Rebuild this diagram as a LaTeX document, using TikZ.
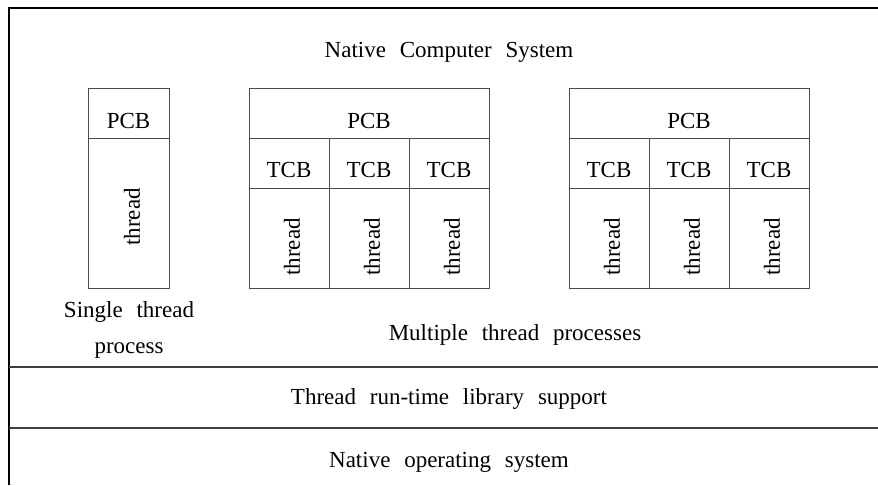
\documentclass[tikz,border=0pt]{standalone}
\usepackage{fontspec}
\setmainfont{Liberation Serif}[WordSpace=2.4]
\begin{document}
\begin{tikzpicture}[x=1pt,y=-1pt,
    frame/.style={draw=black,line width=1.6pt},
    sep/.style={draw=black!75,line width=1.1pt},
    cellline/.style={draw=black!70,line width=1pt},
    lbl/.style={inner sep=0pt,anchor=base,font=\fontsize{23}{27}\selectfont},
    vlbl/.style={inner sep=0pt,rotate=90,font=\fontsize{23}{27}\selectfont}]
\useasboundingbox (0,0) rectangle (878,485);
% outer frame and layer separators
\draw[frame] (9,485) -- (9,8) -- (878,8);
\draw[sep] (9,367) -- (878,367);
\draw[sep] (9,428) -- (878,428);

\node[lbl] (ncs) at (449,57) {Native Computer System};

% single thread process
\draw[cellline] (88,88) rectangle (169,288);
\draw[cellline] (88,138) -- (169,138);
\node[lbl] (pcbS) at (128.5,128) {PCB};
\node[vlbl] (thS) at (132,217) {thread};

% multiple thread processes
\foreach \x [count=\i] in {249,569}{
  \draw[cellline] (\x,88) rectangle ({\x+240},288);
  \draw[cellline] (\x,138) -- ({\x+240},138);
  \draw[cellline] (\x,188) -- ({\x+240},188);
  \draw[cellline] ({\x+80},138) -- ({\x+80},288);
  \draw[cellline] ({\x+160},138) -- ({\x+160},288);
  \node[lbl] (pcb\i) at ({\x+120},128) {PCB};
  \foreach \c in {0,1,2}{
    \node[lbl] (tcb\i\c) at ({\x+40+80*\c},177) {TCB};
    \node[vlbl] (th\i\c) at ({\x+43+80*\c},247) {thread};
  }
}

\node[lbl] (single1) at (129,317) {Single thread};
\node[lbl] (single2) at (129,353) {process};
\node[lbl] (multi) at (515,340) {Multiple thread processes};

\node[lbl] (rtl) at (449,404) {Thread run-time library support};
\node[lbl] (nos) at (449,467) {Native operating system};
\end{tikzpicture}
\end{document}
